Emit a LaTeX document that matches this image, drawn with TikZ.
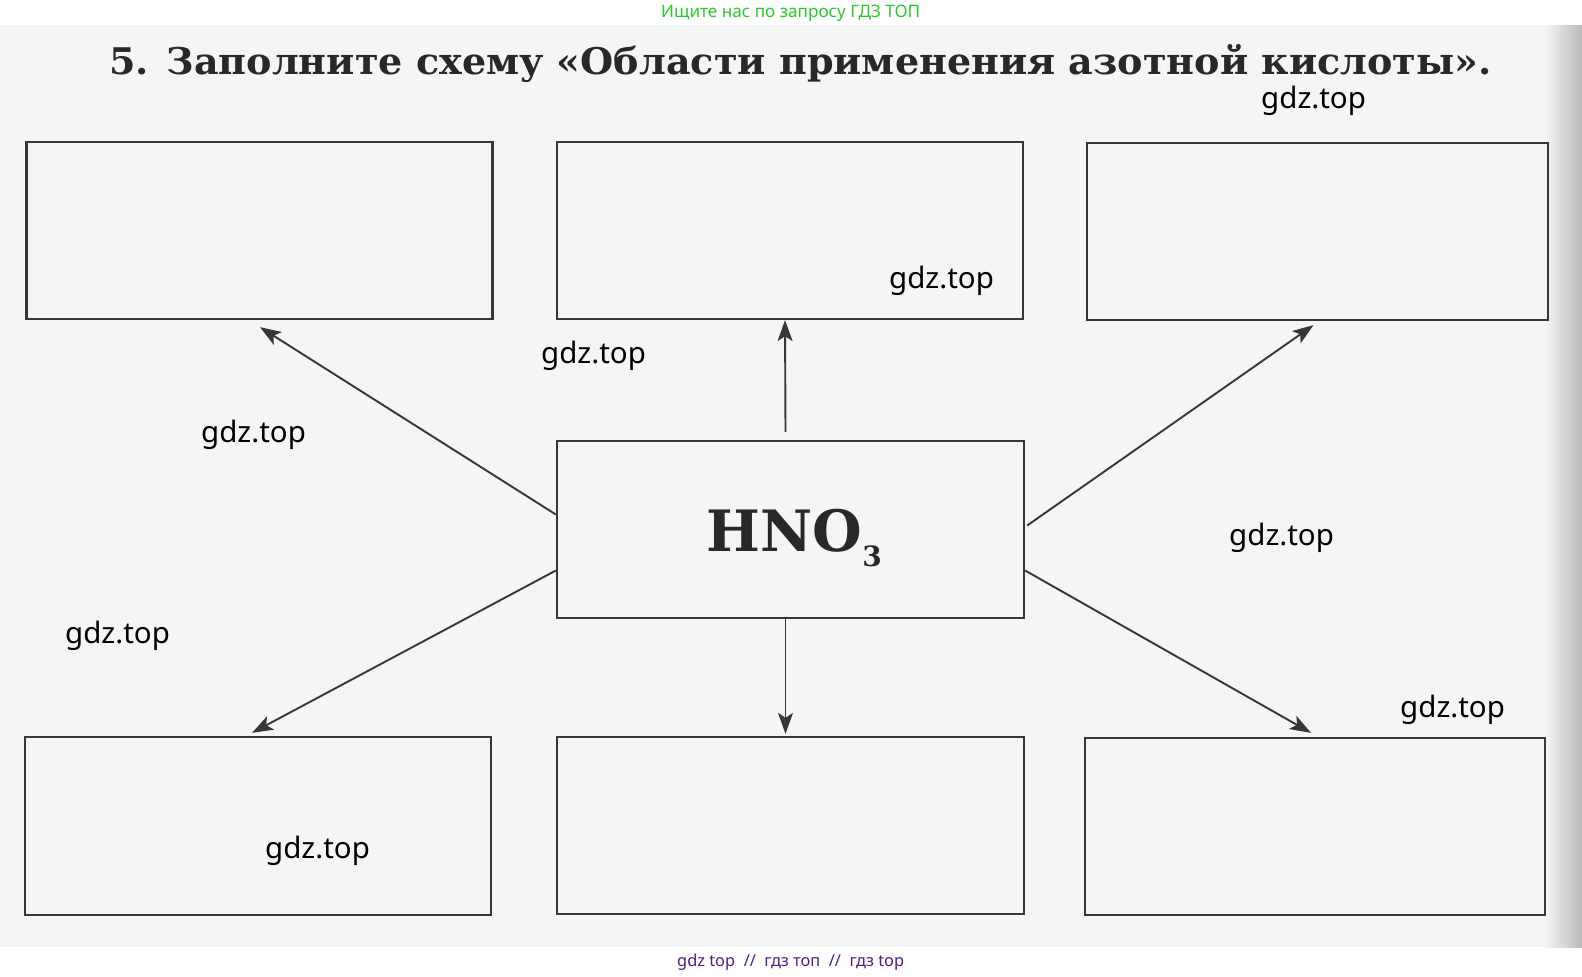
\documentclass[tikz,border=0pt]{standalone}
\usepackage{fontspec}
\setmainfont{DejaVu Serif}
\newfontfamily\wmfont{Noto Sans}
\usetikzlibrary{arrows.meta}
\definecolor{page}{RGB}{244,245,245}
\definecolor{ink}{RGB}{55,55,55}
\definecolor{textink}{RGB}{40,40,40}
\definecolor{wgreen}{RGB}{45,200,45}
\definecolor{wpurple}{RGB}{80,30,130}
\tikzset{
  box/.style={draw=ink, line width=2.3pt, minimum width=466pt, minimum height=177pt, inner sep=0pt},
  conn/.style={draw=ink, line width=1.9pt, -{Stealth[length=21pt,width=15pt,inset=5pt]}},
  wm/.style={font=\wmfont\fontsize{29.5}{29.5}\selectfont, anchor=base west, inner sep=0pt, text=black},
}
\begin{document}
\begin{tikzpicture}[x=1pt,y=-1pt]
\useasboundingbox (0,0) rectangle (1582,977);
\fill[white] (0,0) rectangle (1582,977);
\fill[page] (0,25) rectangle (1582,947);
\shade[left color=page,right color=black!28] (1545,25) rectangle (1582,947);

% title
\node[anchor=base west, inner sep=0pt, text=textink] (title) at (109,74)
  {\resizebox{1382pt}{30pt}{\bfseries 5. Заполните схему «Области применения азотной кислоты».}};

% boxes
\node[box] (TL) at (259.5,230.5) {};
\node[box] (TM) at (790,230.5) {};
\node[box, minimum width=461pt] (TR) at (1317.5,231.5) {};
\node[box, minimum width=467pt] (C) at (790.5,529.5) {};
\node[box, minimum height=178pt] (BL) at (258,826) {};
\node[box, minimum width=467pt] (BM) at (790.5,825.5) {};
\node[box, minimum width=460pt] (BR) at (1315,826.5) {};

\node[anchor=base west, inner sep=0pt, text=textink] (hno) at (706.5,551.7)
  {\fontsize{57}{57}\selectfont\bfseries HNO\raisebox{-15pt}{\fontsize{28}{28}\selectfont\bfseries 3}};

% connectors
\draw[conn] ([xshift=-5pt,yshift=8pt]C.north) -- ([xshift=-5pt]TM.south);
\draw[conn] ([xshift=-5pt]C.south) -- ([xshift=-5pt,yshift=2pt]BM.north);
\draw[conn] ([yshift=15pt]C.west) -- ([xshift=0.5pt,yshift=-7pt]TL.south);
\draw[conn] ([xshift=2pt,yshift=4pt]C.east) -- ([xshift=-4pt,yshift=-4pt]TR.south);
\draw[conn] ([yshift=-41pt]C.west) -- ([xshift=-6pt,yshift=3pt]BL.north);
\draw[conn] ([yshift=-41pt]C.east) -- ([xshift=-4pt,yshift=4pt]BR.north);

% watermarks
\node[wm] (w1) at (1261,108) {gdz.top};
\node[wm] (w2) at (889,288) {gdz.top};
\node[wm] (w3) at (541,363) {gdz.top};
\node[wm] (w4) at (201,442) {gdz.top};
\node[wm] (w5) at (1229,545) {gdz.top};
\node[wm] (w6) at (65,643) {gdz.top};
\node[wm] (w7) at (1400,717) {gdz.top};
\node[wm] (w8) at (265,858) {gdz.top};

\node[anchor=base west, inner sep=0pt, text=wgreen] (top) at (661,17.5)
  {\resizebox{259pt}{!}{\wmfont Ищите нас по запросу ГДЗ ТОП}};
\node[anchor=base west, inner sep=0pt, text=wpurple] (bot) at (677,966)
  {\resizebox{227pt}{!}{\wmfont gdz top\ \ //\ \ гдз топ\ \ //\ \ гдз top}};
\end{tikzpicture}
\end{document}
